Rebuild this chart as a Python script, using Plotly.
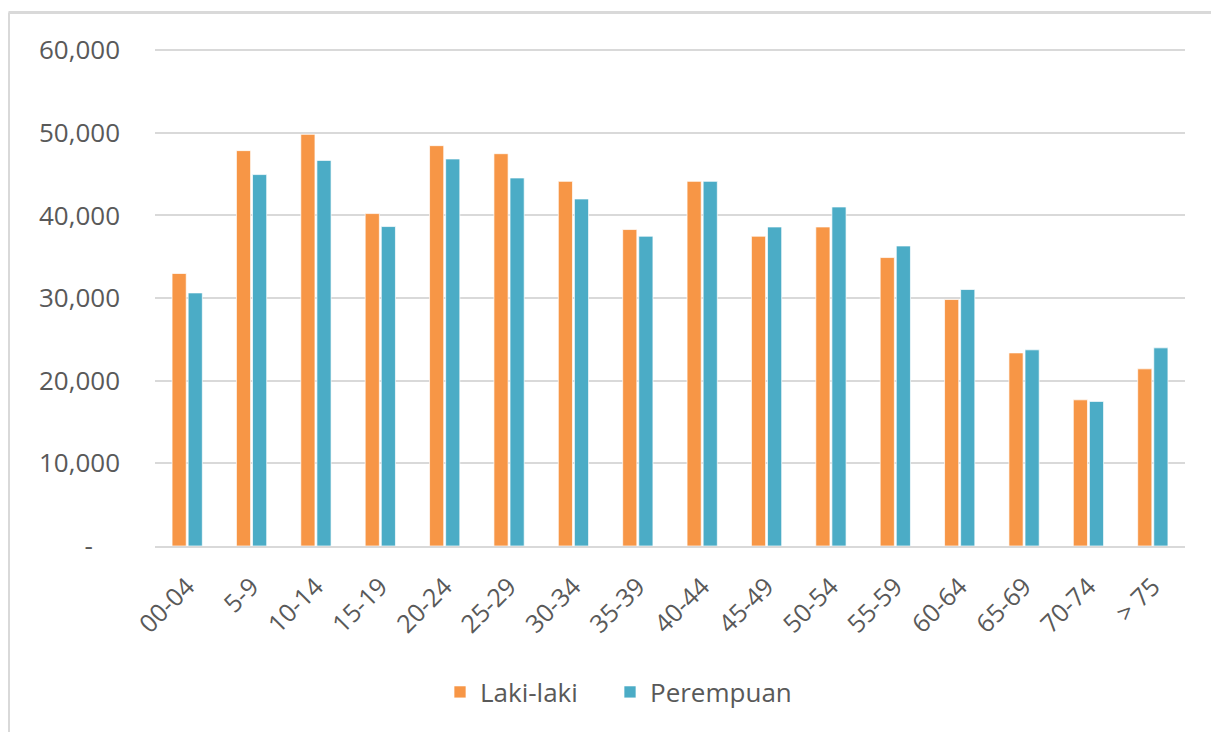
import plotly.graph_objects as go

# kelompok umur
age_groups = ["00-04", "5-9", "10-14", "15-19", "20-24", "25-29", "30-34", "35-39",
              "40-44", "45-49", "50-54", "55-59", "60-64", "65-69", "70-74", "> 75"]

laki_laki = [32980, 47850, 49820, 40230, 48450, 47480, 44130, 38300,
             44130, 37490, 38610, 34910, 29830, 23370, 17690, 21440]
perempuan = [30630, 44950, 46670, 38660, 46840, 44540, 42000, 37490,
             44130, 38610, 41030, 36310, 31040, 23740, 17500, 23980]

y_ticks = [0, 10000, 20000, 30000, 40000, 50000, 60000]
y_labels = ["-\u00a0\u00a0\u00a0\u00a0", "10,000", "20,000", "30,000", "40,000", "50,000", "60,000"]

ORANGE = "#F79646"
TEAL = "#4BACC6"
TXT = "#595959"
FONT = "Open Sans"

fig = go.Figure()
fig.add_trace(go.Bar(x=age_groups, y=laki_laki, name="Laki-laki", legend="legend",
                     marker=dict(color=ORANGE, line=dict(color="rgba(255,255,255,0.7)", width=1))))
fig.add_trace(go.Bar(x=age_groups, y=perempuan, name="Perempuan", legend="legend2",
                     marker=dict(color=TEAL, line=dict(color="rgba(255,255,255,0.7)", width=1))))

# halaman punya margin 8px, jadi semua posisi digeser 8px
OFF = 8
L, R, T, B = 155 - OFF, 1219 - (1185 - OFF), 49 - OFF, 732 - (546 - OFF)
W, H = 1219 - L - R, 732 - T - B


def px_x(p):
    return (p - OFF - L) / W


def px_y(p):
    return (732 - B - (p - OFF)) / H


# bingkai abu-abu (kiri dan atas)
frame = dict(color="#d9d9d9", width=3)
fig.add_shape(type="line", xref="paper", yref="paper",
              x0=px_x(8.5), x1=px_x(1240), y0=px_y(12.5), y1=px_y(12.5), line=frame)
fig.add_shape(type="line", xref="paper", yref="paper",
              x0=px_x(8.5), x1=px_x(8.5), y0=px_y(12.5), y1=px_y(760), line=frame)

leg = dict(orientation="h", xanchor="left", y=px_y(692), yanchor="middle",
           font=dict(size=26, color=TXT), itemwidth=30)

fig.update_layout(
    width=1219, height=732,
    margin=dict(l=L, r=R, t=T, b=B),
    paper_bgcolor="white", plot_bgcolor="white",
    barmode="group", bargap=0.5, bargroupgap=0.12,
    font=dict(family=FONT, color=TXT),
    xaxis=dict(type="category", tickangle=-45, tickfont=dict(size=25, color=TXT), showgrid=False,
               showline=True, linecolor="#d9d9d9", linewidth=2, ticks="",
               ticklabelstandoff=14, automargin=False),
    yaxis=dict(range=[0, 60150], tickvals=y_ticks, ticktext=y_labels,
               tickfont=dict(size=26, color=TXT), showgrid=True,
               gridcolor="#d9d9d9", gridwidth=2, zeroline=False,
               showline=False, ticks="", ticklabelstandoff=34, automargin=False),
    legend=dict(leg, x=px_x(440)),
    legend2=dict(leg, x=px_x(610)),
    showlegend=True,
)

fig.write_html("out.html")
